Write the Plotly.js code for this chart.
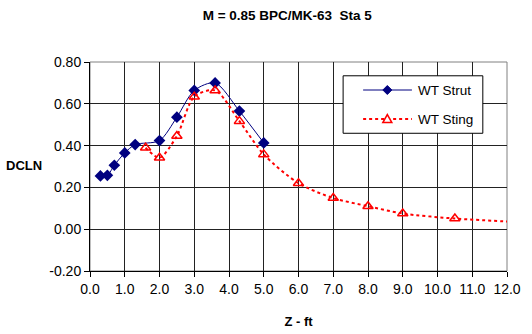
<!DOCTYPE html>
<html>
<head>
<meta charset="utf-8">
<script src="https://cdn.plot.ly/plotly-3.0.1.min.js"></script>
<style>html,body{margin:0;padding:0;background:#fff;}#chart{width:532px;height:334px;}</style>
</head>
<body>
<div id="chart"></div>
<script>
var chartTitle = "M = 0.85 BPC/MK-63  Sta 5";
var xTitle = "Z - ft";
var yTitle = "DCLN";
var strutName = "WT Strut";
var stingName = "WT Sting";
var strutZ = [0.3, 0.5, 0.7, 1.0, 1.3, 2.0, 2.5, 3.0, 3.6, 4.3, 5.0];
var strutDCLN = [0.255, 0.258, 0.306, 0.365, 0.405, 0.424, 0.536, 0.664, 0.70, 0.565, 0.413];
var stingZ = [1.6, 2.0, 2.5, 3.0, 3.6, 4.3, 5.0, 6.0, 7.0, 8.0, 9.0, 10.5, 12.5];
var stingDCLN = [0.39, 0.342, 0.446, 0.634, 0.664, 0.517, 0.358, 0.22, 0.149, 0.11, 0.075, 0.051, 0.033];
var xTicks = [0,1,2,3,4,5,6,7,8,9,10,11,12];
var yTicks = [-0.2,0,0.2,0.4,0.6,0.8];

var font = "Arial, 'Liberation Sans', sans-serif";
var navy = "#000080", red = "#ff0000";
var traces = [
  {x: strutZ, y: strutDCLN, name: strutName, type: "scatter", mode: "lines+markers",
   line: {color: navy, width: 1, shape: "spline", smoothing: 0.8},
   marker: {symbol: "diamond", size: 9, color: navy}},
  {x: stingZ, y: stingDCLN, name: stingName, type: "scatter", mode: "lines+markers",
   line: {color: red, width: 2, dash: "dot", shape: "spline", smoothing: 0.8},
   marker: {symbol: "triangle-up-open", size: 9, color: red, line: {width: 1.5, color: red}}}
];

// legend box (paper coords)
var lgX0 = 0.607, lgX1 = 0.942, lgY0 = 0.659, lgY1 = 0.934;
var rowY = [0.866, 0.727];
var lnX0 = 0.655, lnX1 = 0.772, symX = 0.713, txtX = 0.782;

var shapes = [
  {type: "rect", xref: "paper", yref: "paper", x0: 0, x1: 1, y0: 0, y1: 1,
   line: {color: "#808080", width: 1}, fillcolor: "rgba(0,0,0,0)", layer: "below"},
  {type: "rect", xref: "paper", yref: "paper", x0: lgX0, x1: lgX1, y0: lgY0, y1: lgY1,
   line: {color: "#000", width: 1}, fillcolor: "#fff", layer: "above"},
  {type: "line", xref: "paper", yref: "paper", x0: lnX0, x1: lnX1, y0: rowY[0], y1: rowY[0],
   line: {color: navy, width: 1}, layer: "above"},
  {type: "path", xref: "paper", yref: "paper", xsizemode: "pixel", ysizemode: "pixel",
   xanchor: symX, yanchor: rowY[0], path: "M0,4.5 L4.5,0 L0,-4.5 L-4.5,0 Z",
   fillcolor: navy, line: {color: navy, width: 1}, layer: "above"},
  {type: "line", xref: "paper", yref: "paper", x0: lnX0, x1: lnX1, y0: rowY[1], y1: rowY[1],
   line: {color: red, width: 2, dash: "dot"}, layer: "above"},
  {type: "path", xref: "paper", yref: "paper", xsizemode: "pixel", ysizemode: "pixel",
   xanchor: symX, yanchor: rowY[1], path: "M-4.5,-3.5 L4.5,-3.5 L0,4.5 Z",
   fillcolor: "#fff", line: {color: red, width: 1.5}, layer: "above"}
];

var layout = {
  width: 532, height: 334,
  margin: {l: 90, r: 25, t: 62, b: 63},
  paper_bgcolor: "#fff", plot_bgcolor: "#fff",
  font: {family: font, color: "#000", size: 13},
  title: {text: "<b>" + chartTitle + "</b>", x: 0.54, xanchor: "center", y: 0.955, yanchor: "middle",
          font: {family: font, size: 13.5, color: "#000"}},
  xaxis: {range: [0, 12], tickvals: xTicks, ticktext: xTicks.map(function(v){return v.toFixed(1);}),
          showgrid: true, gridcolor: "#222", gridwidth: 1,
          ticks: "outside", ticklen: 5, tickcolor: "#000",
          showline: true, linecolor: "#000", linewidth: 1, mirror: false,
          zeroline: false, tickfont: {size: 14},
          title: {text: "<b>" + xTitle + "</b>", font: {size: 13}, standoff: 21}},
  yaxis: {range: [-0.2, 0.8], tickvals: yTicks, ticktext: yTicks.map(function(v){return v.toFixed(2);}),
          showgrid: true, gridcolor: "#222", gridwidth: 1,
          ticks: "outside", ticklen: 5, tickcolor: "#000",
          showline: true, linecolor: "#000", linewidth: 1,
          zeroline: false, tickfont: {size: 14}},
  shapes: shapes,
  annotations: [
    {text: "<b>" + yTitle + "</b>", xref: "paper", yref: "paper", x: -0.158, y: 0.505,
     xanchor: "center", yanchor: "middle", showarrow: false, font: {size: 13}},
    {text: strutName, xref: "paper", yref: "paper", x: txtX, y: rowY[0],
     xanchor: "left", yanchor: "middle", showarrow: false, font: {size: 13.5}},
    {text: stingName, xref: "paper", yref: "paper", x: txtX, y: rowY[1],
     xanchor: "left", yanchor: "middle", showarrow: false, font: {size: 13.5}}
  ],
  showlegend: false
};
Plotly.newPlot("chart", traces, layout, {displayModeBar: false, staticPlot: true});
</script>
</body>
</html>
